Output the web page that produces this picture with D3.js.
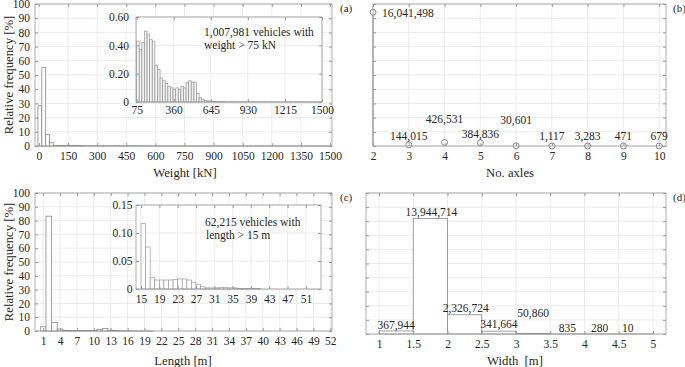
<!DOCTYPE html>
<html>
<head>
<meta charset="utf-8">
<script src="https://cdn.jsdelivr.net/npm/d3@7"></script>
<style>
body { margin: 0; background: #fff; }
svg, svg text { font-family: "Liberation Serif", "DejaVu Serif", serif; }
</style>
</head>
<body>
<svg width="685" height="367"></svg>
<script>
// ---- data ----
// (a) weight, 20 kN bins, relative frequency [%]
const weightTicks = [0, 150, 300, 450, 600, 750, 900, 1050, 1200, 1350, 1500];
const weightLowEdges = [-5, 15, 35, 55];
const weightLow = [28.3, 55.2, 8.1, 2.3];
const weightInsetTicks = [75, 360, 645, 930, 1215, 1500];
const weightInsetYTicks = [0, 0.2, 0.4, 0.6];
const weightHigh = [0.43, 0.37, 0.42, 0.50, 0.48, 0.44, 0.43, 0.26, 0.23, 0.17,
                    0.15, 0.13, 0.11, 0.10, 0.09, 0.10, 0.09, 0.11, 0.10, 0.14,
                    0.15, 0.14, 0.14, 0.06, 0.03, 0.02, 0.012, 0.008, 0.006, 0.005,
                    0.004, 0.004, 0.003, 0.003, 0.002, 0.002, 0.002, 0.001, 0.001, 0.001,
                    0.001, 0.001, 0.001, 0.001, 0.0005, 0.0005, 0.0005, 0.0005, 0.0005, 0.0005,
                    0.0005, 0.0003, 0.0003, 0.0003, 0.0003, 0.0003, 0.0003, 0.0002, 0.0002, 0.0002,
                    0.0002, 0.0002, 0.0001, 0.0001, 0.0001, 0.0001, 0.0001, 0.0001, 0.0001, 0.0001, 0.0001];
const weightNote = ["1,007,981 vehicles with", "weight > 75 kN"];

// (b) number of axles
const axles = [2, 3, 4, 5, 6, 7, 8, 9, 10];
const axleCounts = [16041498, 144015, 426531, 384836, 30601, 1117, 3283, 471, 679];

// (c) length, 1 m bins, relative frequency [%]
const lengthTicks = [1, 4, 7, 10, 13, 16, 19, 22, 25, 28, 31, 34, 37, 40, 43, 46, 49, 52];
const lengthBins = [1, 2, 3, 4, 5, 6, 7, 8, 9, 10, 11, 12, 13, 14, 15, 16, 17, 18, 19, 20];
const lengthFreq = [3.1, 83.2, 6.1, 1.4, 0.5, 0.4, 0.4, 0.4, 0.4, 0.5, 1.2, 1.9, 0.6, 0.3, 0.2, 0.12, 0.08, 0.03, 0.02, 0.02];
const lengthInsetTicks = [15, 19, 23, 27, 31, 35, 39, 43, 47, 51];
const lengthInsetYTicks = [0, 0.05, 0.10, 0.15];
const lengthInsetBins = [15, 16, 17, 18, 19, 20, 21, 22, 23, 24, 25, 26, 27, 28, 29, 30, 31, 32, 33, 34, 35, 36, 37, 38, 39, 40];
const lengthInsetFreq = [0.117, 0.075, 0.020, 0.016, 0.016, 0.016, 0.016, 0.017, 0.018, 0.018, 0.016, 0.012, 0.008, 0.004, 0.002, 0.002, 0.002, 0.003, 0.003, 0.002, 0.002, 0.001, 0.001, 0.001, 0.001, 0.001];
const lengthNote = ["62,215 vehicles with", "length > 15 m"];

// (d) width, 0.5 m bins, counts
const widthTicks = [1, 1.5, 2, 2.5, 3, 3.5, 4, 4.5, 5];
const widthEdges = [1, 1.5, 2, 2.5, 3, 3.5, 4, 4.5];
const widthCounts = [367944, 13944714, 2326724, 341664, 50860, 835, 280, 10];

const pctTicks = [0, 10, 20, 30, 40, 50, 60, 70, 80, 90, 100];

// ---- style ----
const FONT = "Liberation Serif, DejaVu Serif, serif";
const gridCol = "#e6e6e6", boxCol = "#9a9a9a", barCol = "#8a8a8a", txtCol = "#262626";
const fmt = d3.format(",");
const svg = d3.select("svg");

function frame(x, y, xt, yt) {
    const [x0, x1] = x.range(), [y0, y1] = y.range();
    const g = svg.append("g");
    g.append("rect").attr("x", x0).attr("y", y1).attr("width", x1 - x0).attr("height", y0 - y1).attr("fill", "#fff");
    g.selectAll(".gx").data(xt).join("line")
        .attr("x1", d => x(d)).attr("x2", d => x(d)).attr("y1", y0).attr("y2", y1)
        .attr("stroke", gridCol).attr("stroke-width", 0.8);
    g.selectAll(".gy").data(yt).join("line")
        .attr("y1", d => y(d)).attr("y2", d => y(d)).attr("x1", x0).attr("x2", x1)
        .attr("stroke", gridCol).attr("stroke-width", 0.8);
    return g;
}

function box(x, y, xt, yt, o) {
    const [x0, x1] = x.range(), [y0, y1] = y.range();
    const g = svg.append("g");
    const axes = [
        [d3.axisBottom(x).tickValues(xt).tickSize(-3).tickPadding(o.xpad), `translate(0,${y0})`, o.xfmt],
        [d3.axisTop(x).tickValues(xt).tickSize(-3), `translate(0,${y1})`, () => ""],
        [d3.axisLeft(y).tickValues(yt).tickSize(-3).tickPadding(o.ypad), `translate(${x0},0)`, o.yfmt || (() => "")],
        [d3.axisRight(y).tickValues(yt).tickSize(-3), `translate(${x1},0)`, () => ""]
    ];
    axes.forEach(([ax, tr, f]) => {
        const a = g.append("g").attr("transform", tr).call(ax.tickFormat(f));
        a.attr("font-family", FONT).attr("font-size", 11.5);
        a.select(".domain").remove();
        a.selectAll("line").attr("stroke", boxCol);
        a.selectAll("text").attr("fill", txtCol).attr("font-family", FONT);
    });
    g.append("rect").attr("x", x0).attr("y", y1).attr("width", x1 - x0).attr("height", y0 - y1)
        .attr("fill", "none").attr("stroke", boxCol).attr("stroke-width", 0.8);
}

function label(x, y, t, o = {}) {
    const el = svg.append("text").attr("x", x).attr("y", y).attr("fill", txtCol)
        .attr("font-family", FONT)
        .attr("font-size", o.fs || 11.5).attr("text-anchor", o.anchor || "start").text(t);
    if (o.rot) el.attr("transform", `rotate(-90,${x},${y})`);
    if (o.pre) el.style("white-space", "pre");
    return el;
}

// ---- (a) weight ----
{
    const x = d3.scaleLinear().domain([-20, 1510]).range([35, 332]);
    const y = d3.scaleLinear().domain([0, 100]).range([146, 4]);
    const g = frame(x, y, weightTicks, pctTicks);
    const bars = weightLow.map((v, i) => ({ a: weightLowEdges[i], v }))
        .concat(weightHigh.map((v, i) => ({ a: 75 + 20 * i, v })));
    g.selectAll(".bar").data(bars).join("rect")
        .attr("x", d => x(d.a)).attr("width", d => x(d.a + 20) - x(d.a))
        .attr("y", d => y(d.v)).attr("height", d => y(0) - y(d.v))
        .attr("fill", "#fff").attr("stroke", barCol).attr("stroke-width", 0.8);
    box(x, y, weightTicks, pctTicks, { xpad: 6, ypad: 5, xfmt: d => d, yfmt: d => d });

    // inset
    const xi = d3.scaleLinear().domain([70, 1500]).range([136, 322]);
    const yi = d3.scaleLinear().domain([0, 0.6]).range([102, 17]);
    const gi = frame(xi, yi, weightInsetTicks, weightInsetYTicks);
    gi.selectAll(".bar").data(weightHigh).join("rect")
        .attr("x", (d, i) => xi(75 + 20 * i)).attr("width", xi(95) - xi(75))
        .attr("y", d => yi(d)).attr("height", d => yi(0) - yi(d))
        .attr("fill", "#efefef").attr("stroke", "#9a9a9a").attr("stroke-width", 0.7);
    box(xi, yi, weightInsetTicks, weightInsetYTicks, { xpad: 4, ypad: 7, xfmt: d => d, yfmt: d => d === 0 ? "0" : d3.format(".2f")(d) });
    label(204, 36, weightNote[0]);
    label(204, 49, weightNote[1]);

    label(185, 176.5, "Weight [kN]", { fs: 12.7, anchor: "middle" });
    label(13, 75, "Relative frequency [%]", { fs: 12.7, anchor: "middle", rot: true });
    label(340, 12, "(a)", { fs: 11 });
}

// ---- (b) axles ----
{
    const total = d3.sum(axleCounts);
    const x = d3.scaleLinear().domain([2, 10.19]).range([373, 666]);
    const y = d3.scaleLinear().domain([0, total]).range([146, 4]);
    const yt = pctTicks.map(p => p / 100 * total);
    const g = frame(x, y, axles, yt);
    g.selectAll(".stem").data(axles).join("line")
        .attr("x1", d => x(d)).attr("x2", d => x(d)).attr("y1", y(0))
        .attr("y2", (d, i) => y(axleCounts[i])).attr("stroke", barCol).attr("stroke-width", 0.9);
    g.selectAll(".pt").data(axles).join("circle")
        .attr("cx", d => x(d)).attr("cy", (d, i) => y(axleCounts[i])).attr("r", 3)
        .attr("fill", "#fff").attr("stroke", "#777").attr("stroke-width", 0.9);
    box(x, y, axles, yt, { xpad: 6, ypad: 5, xfmt: d => d });
    // label placement (baseline above the x axis)
    const lift = [null, 6, 23, 8, 22, 6, 6, 6, 6];
    axles.forEach((a, i) => {
        if (i === 0) label(x(a) + 9, y(axleCounts[i]) + 5, fmt(axleCounts[i]));
        else label(x(a), y(0) - lift[i], fmt(axleCounts[i]), { anchor: "middle" });
    });
    label(510, 177, "No. axles", { fs: 12.7, anchor: "middle" });
    label(673, 12, "(b)", { fs: 11 });
}

// ---- (c) length ----
{
    const x = d3.scaleLinear().domain([-0.45, 52.3]).range([35, 332]);
    const y = d3.scaleLinear().domain([0, 100]).range([331, 193]);
    const g = frame(x, y, lengthTicks, pctTicks);
    g.selectAll(".bar").data(lengthBins).join("rect")
        .attr("x", d => x(d - 0.5)).attr("width", x(1) - x(0))
        .attr("y", (d, i) => y(lengthFreq[i])).attr("height", (d, i) => y(0) - y(lengthFreq[i]))
        .attr("fill", "#fff").attr("stroke", barCol).attr("stroke-width", 0.8);
    box(x, y, lengthTicks, pctTicks, { xpad: 6, ypad: 5, xfmt: d => d, yfmt: d => d });

    const xi = d3.scaleLinear().domain([13.9, 54.3]).range([136, 321]);
    const yi = d3.scaleLinear().domain([0, 0.15]).range([289, 205]);
    const gi = frame(xi, yi, lengthInsetTicks, lengthInsetYTicks);
    gi.selectAll(".bar").data(lengthInsetBins).join("rect")
        .attr("x", d => xi(d)).attr("width", xi(1) - xi(0))
        .attr("y", (d, i) => yi(lengthInsetFreq[i])).attr("height", (d, i) => yi(0) - yi(lengthInsetFreq[i]))
        .attr("fill", "#fff").attr("stroke", "#9a9a9a").attr("stroke-width", 0.7);
    box(xi, yi, lengthInsetTicks, lengthInsetYTicks, { xpad: 6, ypad: 3.5, xfmt: d => d, yfmt: d => d === 0 ? "0" : d3.format(".2f")(d) });
    label(205, 226, lengthNote[0]);
    label(206, 239, lengthNote[1]);

    label(183, 365, "Length [m]", { fs: 12.7, anchor: "middle" });
    label(13, 262, "Relative frequency [%]", { fs: 12.7, anchor: "middle", rot: true });
    label(340, 201, "(c)", { fs: 11 });
}

// ---- (d) width ----
{
    const total = d3.sum(widthCounts);
    const x = d3.scaleLinear().domain([0.81, 5.19]).range([366, 666]);
    const y = d3.scaleLinear().domain([0, total]).range([334, 193]);
    const yt = pctTicks.map(p => p / 100 * total);
    const g = frame(x, y, widthTicks, yt);
    g.selectAll(".bar").data(widthEdges).join("rect")
        .attr("x", d => x(d)).attr("width", x(1.5) - x(1))
        .attr("y", (d, i) => y(widthCounts[i])).attr("height", (d, i) => y(0) - y(widthCounts[i]))
        .attr("fill", "#fff").attr("stroke", barCol).attr("stroke-width", 0.8);
    box(x, y, widthTicks, yt, { xpad: 6, ypad: 5, xfmt: d => d });
    // label nudges
    const dx = [0, 1, 1, 0, 0, 0, -2, -8];
    const base = [330, 216, 312, 328, 317, 333, 333, 333];
    widthEdges.forEach((e, i) => {
        label(x(e + 0.25) + dx[i], Math.min(base[i], y(widthCounts[i]) - 2), fmt(widthCounts[i]), { anchor: "middle" });
    });
    label(515, 365, "Width  [m]", { fs: 12.7, anchor: "middle", pre: true });
    label(673, 201, "(d)", { fs: 11 });
}
</script>
</body>
</html>
